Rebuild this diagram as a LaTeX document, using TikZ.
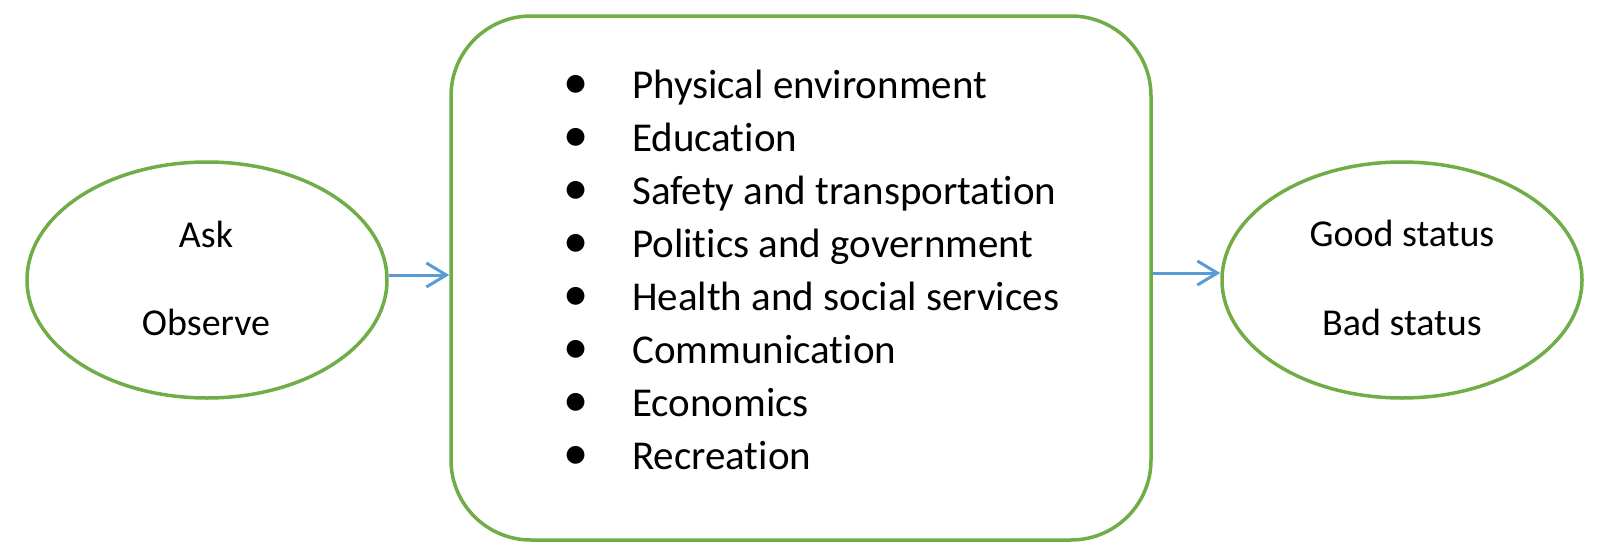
\documentclass[tikz,border=0pt]{standalone}
\usepackage{fontspec}
\setmainfont[Ligatures=NoCommon]{Carlito}
\usetikzlibrary{shapes.geometric,arrows.meta}
\definecolor{lgreen}{RGB}{112,173,71}
\definecolor{lblue}{RGB}{91,155,213}
\tikzset{
  oval/.style={draw=lgreen,line width=3.5pt,ellipse,minimum width=360pt,minimum height=236pt,inner sep=0pt},
  bigbox/.style={draw=lgreen,line width=3.5pt,rounded corners=80pt,minimum width=700pt,minimum height=524pt,inner sep=0pt},
  lbl/.style={font=\fontsize{38}{46}\selectfont,anchor=base,inner sep=0pt},
  item/.style={font=\fontsize{41}{49}\selectfont,anchor=base west,inner sep=0pt},
  bul/.style={font=\fontsize{36}{43}\selectfont,anchor=base,inner sep=0pt},
  arr/.style={draw=lblue,line width=3pt,-{Straight Barb[length=20pt,width=24pt]}}
}
\begin{document}
\begin{tikzpicture}[x=1pt,y=-1pt]
\useasboundingbox (0,0) rectangle (1604,554);
\node[oval] (L) at (207,280) {};
\node[oval] (R) at (1402,280) {};
\node[bigbox] (B) at (801,278) {};
\node[lbl] (ask) at (206,247) {Ask};
\node[lbl] (obs) at (206,335) {Observe};
\node[lbl] (good) at (1402,246) {Good status};
\node[lbl] (bad) at (1402,335) {Bad status};
\foreach \t [count=\i from 0] in {Physical environment,Education,Safety and transportation,Politics and government,Health and social services,Communication,Economics,Recreation}{
  \node[bul] (b\i) at (576,98+53*\i) {\scalebox{1.4}{•}};
  \node[item] (t\i) at (632,98+53*\i) {\t};
}
\draw[arr] ([yshift=5pt]L.east) -- ([yshift=5pt]L.east -| B.west);
\draw[arr] ([yshift=5pt]B.east) -- ([yshift=5pt]B.east -| R.west);
\end{tikzpicture}
\end{document}
